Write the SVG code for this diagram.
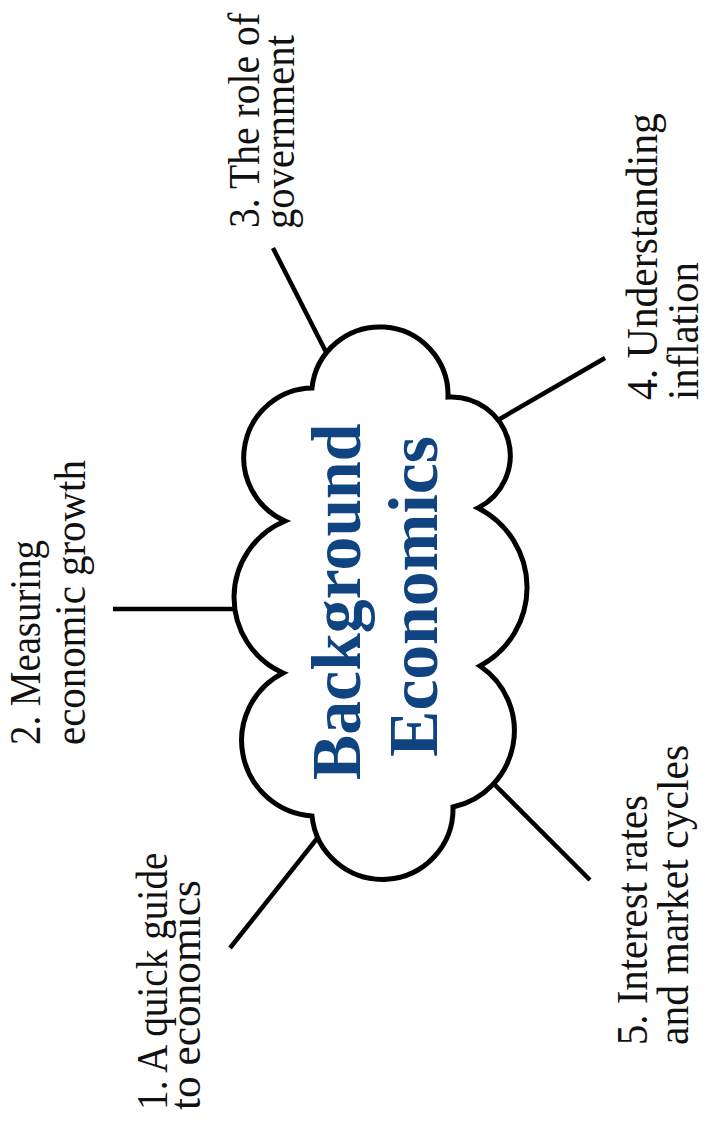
<svg xmlns="http://www.w3.org/2000/svg" width="708" height="1123" viewBox="0 0 708 1123">
<style>
.lbl{font-family:"Liberation Serif","Times New Roman",serif;font-size:44px;fill:#111;}
.ttl{font-family:"Liberation Serif","Times New Roman",serif;font-size:70px;font-weight:bold;fill:#104480;}
.cn{stroke:#000;stroke-width:4.5;stroke-linecap:butt;fill:none;}
.cloud{fill:#fff;stroke:#000;stroke-width:5;stroke-linejoin:miter;}
</style>
<rect width="708" height="1123" fill="#fff"/>
<g id="connectors">
<line class="cn" x1="273" y1="248" x2="326" y2="352"/>
<line class="cn" x1="605" y1="358" x2="498" y2="420"/>
<line class="cn" x1="113" y1="609" x2="236" y2="609"/>
<line class="cn" x1="230" y1="948" x2="319" y2="836"/>
<line class="cn" x1="590" y1="880" x2="494" y2="784"/>
</g>
<g id="center">
<path class="cloud" d="M312,388 A68.2,68.2 0 0 1 448,397 A58.7,58.7 0 0 1 478,508 A89,89 0 0 1 480,666 A78.1,78.1 0 0 1 453,807 A70.7,70.7 0 0 1 312,816 A75.7,75.7 0 0 1 283,673 A82.8,82.8 0 0 1 285,521 A69.5,69.5 0 0 1 312,388 Z"/>
<text class="ttl" transform="translate(360,780) rotate(-90) scale(0.968,1)">Background</text>
<text class="ttl" transform="translate(437,757) rotate(-90) scale(0.994,1)">Economics</text>
</g>
<g id="node1">
<text class="lbl" transform="translate(167,1110) rotate(-90) scale(0.893,1)">1. A quick guide</text>
<text class="lbl" transform="translate(200,1110) rotate(-90) scale(0.985,1)">to economics</text>
</g>
<g id="node2">
<text class="lbl" transform="translate(40,745) rotate(-90) scale(0.883,1)">2. Measuring</text>
<text class="lbl" transform="translate(85,745) rotate(-90) scale(0.929,1)">economic growth</text>
</g>
<g id="node3">
<text class="lbl" transform="translate(259,228) rotate(-90) scale(0.902,1)">3. The role of</text>
<text class="lbl" transform="translate(294,229) rotate(-90) scale(0.923,1)">government</text>
</g>
<g id="node4">
<text class="lbl" transform="translate(657,400) rotate(-90) scale(0.947,1)">4. Understanding</text>
<text class="lbl" transform="translate(698,400) rotate(-90) scale(0.925,1)">inflation</text>
</g>
<g id="node5">
<text class="lbl" transform="translate(647,1045) rotate(-90) scale(0.926,1)">5. Interest rates</text>
<text class="lbl" transform="translate(688,1045) rotate(-90) scale(0.945,1)">and market cycles</text>
</g>
</svg>
